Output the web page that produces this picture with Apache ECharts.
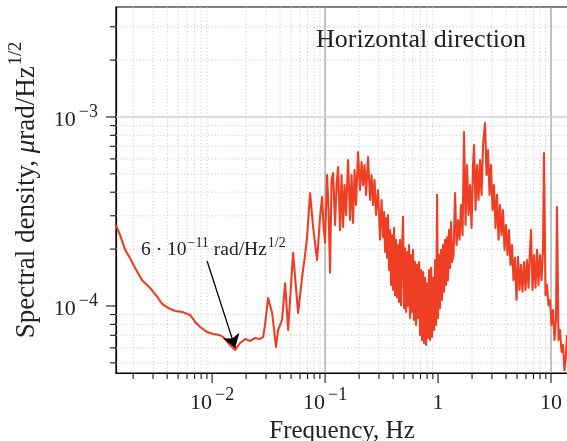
<!DOCTYPE html>
<html>
<head>
<meta charset="utf-8">
<script src="https://cdn.jsdelivr.net/npm/echarts@6/dist/echarts.min.js"></script>
<style>html,body{margin:0;padding:0;background:#fff}#c{width:567px;height:441px}</style>
</head>
<body>
<div id="c"></div>
<script>
// Frequency (Hz)
const freq = [
  0.00141, 0.00153, 0.00170, 0.00188, 0.00208, 0.00240, 0.00283, 0.00326, 0.00361, 0.00408,
  0.00471, 0.00543, 0.00639, 0.00708, 0.00784, 0.00904, 0.0102, 0.0115, 0.0125, 0.0144,
  0.0160, 0.0177, 0.0196, 0.0217, 0.0240, 0.0266, 0.0283, 0.0294, 0.0313, 0.0340,
  0.0368, 0.0384, 0.0416, 0.0443, 0.0471, 0.0521, 0.0577, 0.0626,
  0.0665, 0.0693, 0.0737, 0.0783, 0.0850, 0.0903, 0.0941, 0.0970, 0.100,
  0.1041, 0.1074, 0.1107, 0.1141, 0.1177, 0.1226, 0.1264, 0.1303, 0.1357, 0.1400,
  0.1443, 0.1488, 0.1534, 0.1598, 0.1664, 0.1716, 0.1769, 0.1824, 0.1880, 0.1959,
  0.2040, 0.2104, 0.2169, 0.2237, 0.2306, 0.2402, 0.2502, 0.2580, 0.2660, 0.2742,
  0.2827, 0.2944, 0.3067, 0.3162, 0.3260,
  0.3328, 0.3397, 0.3466, 0.3538, 0.3611, 0.3685, 0.3761, 0.3839, 0.3918, 0.3998,
  0.4081, 0.4165, 0.4251, 0.4338, 0.4428, 0.4519, 0.4612, 0.4707, 0.4804, 0.4903,
  0.5004, 0.5107, 0.5212, 0.5320, 0.5429, 0.5541, 0.5655, 0.5772, 0.5891, 0.6012,
  0.6136, 0.6263, 0.6392, 0.6523, 0.6658, 0.6795, 0.6935, 0.7078, 0.7224, 0.7373,
  0.7525, 0.7680, 0.7838, 0.8000, 0.8165, 0.8333, 0.8505, 0.8680, 0.8859, 0.9042,
  0.9228, 0.9418, 0.9612, 0.9810, 1.0000, 1.0206, 1.0416, 1.0631, 1.0850, 1.1074,
  1.1302, 1.1535, 1.1773, 1.2016, 1.2263, 1.2516, 1.2774, 1.3037, 1.3306,
  1.3717, 1.4142, 1.4582, 1.5034, 1.5501, 1.5982, 1.6478, 1.6990, 1.7517, 1.8061,
  1.8622, 1.9200, 1.9797, 2.0411, 2.0832, 2.1479, 2.2143, 2.2831, 2.3540, 2.4271,
  2.5025, 2.6062, 2.6871, 2.7706, 2.8566, 2.9444, 3.0358, 3.1301, 3.2273, 3.3276,
  3.4309, 3.5374, 3.6473, 3.7606, 3.8774, 3.9977, 4.1210, 4.2490, 4.3810, 4.5170,
  4.6569, 4.8016, 4.9507, 5.1050, 5.2627, 5.4262, 5.5948, 5.7686, 5.9468, 6.1315,
  6.3220, 6.5183, 6.6527, 6.8593, 7.0722, 7.2907, 7.5172, 7.7507, 7.9914, 8.2383,
  8.4942, 8.6700, 8.9384, 9.2160, 9.5022, 9.7975, 10.102, 10.416, 10.740, 11.072,
  11.300, 11.652, 12.012, 12.386, 12.770, 13.168, 13.576, 13.857
];
// Spectral density (µrad/Hz^1/2)
const psd = [
  2.68e-4, 2.38e-4, 1.98e-4, 1.79e-4, 1.59e-4, 1.37e-4, 1.245e-4, 1.12e-4, 1.025e-4, 9.76e-5,
  9.41e-5, 9.29e-5, 8.96e-5, 8.23e-5, 7.74e-5, 7.28e-5, 7.11e-5, 7.03e-5, 6.86e-5, 6.22e-5,
  5.85e-5, 6.37e-5, 6.69e-5, 6.53e-5, 6.77e-5, 6.69e-5, 6.86e-5, 7.93e-5, 1.10e-4, 9.18e-5,
  6.07e-5, 7.46e-5, 8.43e-5, 1.32e-4, 7.46e-5, 1.91e-4, 9.18e-5, 1.42e-4,
  1.86e-4, 2.31e-4, 3.96e-4, 2.62e-4, 1.75e-4, 2.96e-4, 3.78e-4, 2.62e-4, 2.16e-4,
  4.93e-4, 3.22e-4, 1.50e-4, 4.64e-4, 5.05e-4, 2.68e-4, 4.37e-4, 5.44e-4, 2.52e-4, 4.93e-4,
  2.62e-4, 4.37e-4, 3.03e-4, 5.92e-4, 2.85e-4, 4.93e-4, 2.75e-4, 5.24e-4, 3.42e-4, 6.53e-4,
  4.11e-4, 5.78e-4, 4.37e-4, 5.57e-4, 3.87e-4, 6.14e-4, 3.64e-4, 4.93e-4, 3.42e-4, 4.64e-4,
  3.03e-4, 4.11e-4, 2.24e-4, 3.64e-4, 2.31e-4,
  3.14e-4, 1.93e-4, 2.92e-4, 1.80e-4, 3.03e-4, 1.55e-4, 2.52e-4, 1.29e-4, 2.37e-4, 1.215e-4,
  2.59e-4, 1.14e-4, 2.24e-4, 1.11e-4, 2.10e-4, 1.05e-4, 2.24e-4, 1.01e-4, 1.98e-4, 2.96e-4,
  9.74e-5, 2.02e-4, 9.29e-5, 1.93e-4, 9.98e-5, 2.10e-4, 8.64e-5, 1.86e-4, 9.29e-5, 1.98e-4,
  8.43e-5, 1.71e-4, 7.93e-5, 1.65e-4, 8.64e-5, 1.71e-4, 7.02e-5, 1.55e-4, 6.61e-5, 1.51e-4,
  6.37e-5, 1.41e-4, 6.22e-5, 1.32e-4, 6.77e-5, 1.55e-4, 6.61e-5, 1.59e-4, 6.86e-5, 1.41e-4,
  7.46e-5, 1.75e-4, 7.93e-5, 3.87e-4, 8.64e-5, 1.86e-4, 9.74e-5, 1.98e-4, 1.075e-4, 2.10e-4,
  1.19e-4, 2.24e-4, 1.29e-4, 2.31e-4, 1.37e-4, 2.52e-4, 1.59e-4, 2.78e-4, 1.71e-4,
  1.86e-4, 3.96e-4, 2.10e-4, 2.85e-4, 2.24e-4, 3.42e-4, 2.37e-4, 8.33e-4, 2.68e-4, 5.57e-4,
  3.03e-4, 4.37e-4, 2.59e-4, 5.57e-4, 7.11e-4, 3.22e-4, 5.57e-4, 3.64e-4, 5.92e-4, 3.87e-4,
  7.11e-4, 9.29e-4, 4.93e-4, 6.69e-4, 3.87e-4, 5.57e-4, 3.22e-4, 4.37e-4, 2.59e-4, 3.87e-4,
  2.24e-4, 3.42e-4, 2.37e-4, 3.22e-4, 1.98e-4, 2.68e-4, 1.86e-4, 2.52e-4, 1.65e-4, 2.10e-4,
  1.37e-4, 1.80e-4, 1.075e-4, 1.82e-4, 1.215e-4, 1.65e-4, 1.19e-4, 1.71e-4, 1.215e-4, 1.75e-4,
  1.25e-4, 1.98e-4, 2.52e-4, 1.215e-4, 1.86e-4, 1.25e-4, 1.98e-4, 1.29e-4, 1.86e-4, 1.37e-4,
  1.98e-4, 6.45e-4, 1.14e-4, 1.29e-4, 1.01e-4, 1.075e-4, 7.93e-5, 9.52e-5, 6.61e-5, 8.43e-5,
  3.34e-4, 6.61e-5, 7.46e-5, 5.71e-5, 6.22e-5, 4.58e-5, 5.50e-5, 7.02e-5
];
// Axis ticks
const xMajorTicks = [0.01, 0.1, 1, 10];
const xMinorTicks = [0.002,0.003,0.004,0.005,0.006,0.007,0.008,0.009,
  0.02,0.03,0.04,0.05,0.06,0.07,0.08,0.09, 0.2,0.3,0.4,0.5,0.6,0.7,0.8,0.9,
  2,3,4,5,6,7,8,9];
const yMajorTicks = [1e-4, 1e-3];
const yMinorTicks = [5e-5,6e-5,7e-5,8e-5,9e-5, 2e-4,3e-4,4e-4,5e-4,6e-4,7e-4,8e-4,9e-4, 2e-3,3e-3];
const xSolidLines = [0.1, 10];
const ySolidLines = [1e-3];
const arrowFrom = [0.00903, 1.73e-4];
const arrowTo = [0.0160, 6.0e-5];

const SERIF = "'Liberation Serif', 'DejaVu Serif', serif";
const TXT = '#222';

function expLabel(v) {
  const e = Math.round(Math.log10(v));
  if (Math.abs(Math.log10(v) - e) > 1e-6) return '';
  if (e === 0) return '{b|1}';
  if (e === 1) return '{b|10}';
  return '{b|10}{s|\u2212' + Math.abs(e) + '}';
}
const tickRich = {
  b: {fontFamily: SERIF, fontSize: 22, lineHeight: 22, color: TXT, verticalAlign: 'top', padding: [6, 0, 0, 0]},
  s: {fontFamily: SERIF, fontSize: 18, lineHeight: 18, color: TXT, verticalAlign: 'top', padding: [0, 0, 10, 3]}
};

const n = Math.min(freq.length, psd.length);
const lineData = freq.slice(0, n).map((f, i) => [f, psd[i]]);

function renderGrid(params, api) {
  const cs = params.coordSys;
  const x0 = cs.x, x1 = cs.x + cs.width, y0 = cs.y, y1 = cs.y + cs.height;
  const ch = [];
  const dotted = {stroke: '#c4c4c4', lineWidth: 0.9, lineDash: [1.2, 2.2]};
  xMinorTicks.forEach(v => {
    const px = api.coord([v, 1e-4])[0];
    if (px < x0 || px > x1) return;
    ch.push({type: 'line', shape: {x1: px, y1: y0, x2: px, y2: y1}, style: dotted});
    ch.push({type: 'line', shape: {x1: px, y1: y1, x2: px, y2: y1 + 6}, style: {stroke: '#000', lineWidth: 1}});
  });
  xMajorTicks.forEach(v => {
    const px = api.coord([v, 1e-4])[0];
    ch.push({type: 'line', shape: {x1: px, y1: y1, x2: px, y2: y1 + 10}, style: {stroke: '#000', lineWidth: 1}});
  });
  yMinorTicks.forEach(v => {
    const py = api.coord([1, v])[1];
    if (py < y0 || py > y1) return;
    ch.push({type: 'line', shape: {x1: x0, y1: py, x2: x1, y2: py}, style: dotted});
    ch.push({type: 'line', shape: {x1: x0 - 6, y1: py, x2: x0, y2: py}, style: {stroke: '#000', lineWidth: 1}});
  });
  yMajorTicks.forEach(v => {
    const py = api.coord([1, v])[1];
    ch.push({type: 'line', shape: {x1: x0 - 10, y1: py, x2: x0, y2: py}, style: {stroke: '#000', lineWidth: 1}});
  });
  xSolidLines.forEach(v => {
    const px = api.coord([v, 1e-4])[0];
    ch.push({type: 'line', shape: {x1: px, y1: y0, x2: px, y2: y1}, style: {stroke: '#9a9a9a', lineWidth: 1.2}});
  });
  ySolidLines.forEach(v => {
    const py = api.coord([1, v])[1];
    ch.push({type: 'line', shape: {x1: x0, y1: py, x2: x1, y2: py}, style: {stroke: '#d2d2d2', lineWidth: 1.6}});
  });
  return {type: 'group', children: ch};
}

const chart = echarts.init(document.getElementById('c'), null, {renderer: 'canvas', width: 567, height: 441});
chart.setOption({
  animation: false,
  backgroundColor: '#fff',
  grid: {left: 116, right: -1, top: 7, bottom: 68, show: true, borderColor: '#000', borderWidth: 1.2,
         containLabel: false, outerBoundsMode: 'none'},
  xAxis: {
    type: 'log', logBase: 10, min: 0.001410, max: 14.14,
    axisLine: {show: true, onZero: false, lineStyle: {color: '#000', width: 1.2}},
    axisTick: {show: false}, splitLine: {show: false}, minorTick: {show: false},
    axisLabel: {formatter: expLabel, rich: tickRich, margin: 13, showMinLabel: false, showMaxLabel: false},
    name: 'Frequency, Hz', nameLocation: 'middle', nameGap: 43,
    nameTextStyle: {fontFamily: SERIF, fontSize: 25, color: TXT}
  },
  yAxis: {
    type: 'log', logBase: 10, min: 4.419e-5, max: 3.819e-3,
    axisLine: {show: true, onZero: false, lineStyle: {color: '#000', width: 1.2}},
    axisTick: {show: false}, splitLine: {show: false}, minorTick: {show: false},
    axisLabel: {formatter: expLabel, rich: tickRich, margin: 18, padding: [0, 0, 6, 0], showMinLabel: false, showMaxLabel: false},
    name: '{t|Spectral density, }{i|\u03bc}{t|rad/Hz}{s|1/2}', nameLocation: 'middle', nameGap: 82, nameRotate: 90,
    nameTextStyle: {
      rich: {
        t: {fontFamily: SERIF, fontSize: 27, lineHeight: 27, color: TXT, verticalAlign: 'top', padding: [6, 0, 0, 0]},
        i: {fontFamily: SERIF, fontSize: 27, lineHeight: 27, color: TXT, fontStyle: 'italic', verticalAlign: 'top', padding: [6, 0, 0, 0]},
        s: {fontFamily: SERIF, fontSize: 18.5, lineHeight: 18.5, color: TXT, verticalAlign: 'top', padding: [0, 0, 14.5, 1]}
      }
    }
  },
  graphic: [
    {type: 'text', x: 316, y: 40, z: 10, style: {text: 'Horizontal direction', fontFamily: SERIF, fontSize: 26, fill: TXT, verticalAlign: 'middle'}},
    {type: 'text', x: 141, y: 246, z: 10, style: {
      text: '{b|6 \u00b7 10}{s|\u221211}{b| rad/Hz}{s|1/2}', verticalAlign: 'middle',
      rich: {
        b: {fontFamily: SERIF, fontSize: 19.5, lineHeight: 20, fill: TXT, verticalAlign: 'top', padding: [4, 0, 0, 0]},
        s: {fontFamily: SERIF, fontSize: 14, lineHeight: 14, fill: TXT, verticalAlign: 'top', padding: [0, 0, 10, 1]}
      }
    }}
  ],
  series: [
    {type: 'custom', renderItem: renderGrid, data: [[1, 1e-4]], clip: false, silent: true, z: 1},
    {
      type: 'line', data: lineData, showSymbol: false, symbol: 'none', sampling: null, silent: true, z: 3,
      lineStyle: {color: '#ee3f25', width: 2.1, join: 'round'}, emphasis: {disabled: true},
      markLine: {
        silent: true, symbol: ['none', 'arrow'], symbolSize: 13, label: {show: false},
        lineStyle: {color: '#000', width: 1.3, type: 'solid'}, emphasis: {disabled: true},
        data: [[{coord: arrowFrom}, {coord: arrowTo}]]
      }
    }
  ]
});
</script>
</body>
</html>
